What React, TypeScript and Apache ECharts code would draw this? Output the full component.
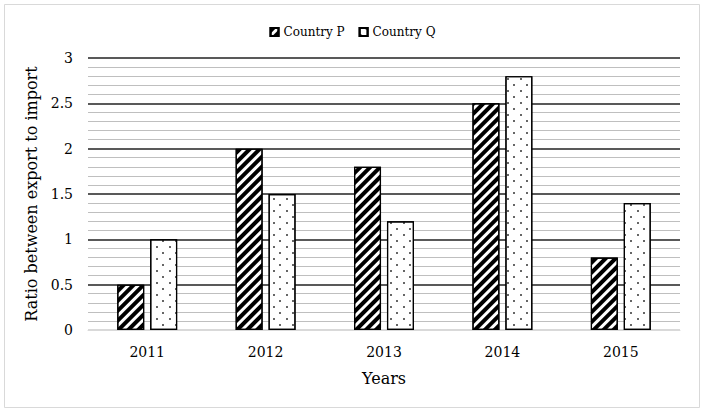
import React, { useEffect, useRef } from "react";
import * as echarts from "echarts";

const years = ["2011", "2012", "2013", "2014", "2015"];
const countryP = [0.5, 2.0, 1.8, 2.5, 0.8];
const countryQ = [1.0, 1.5, 1.2, 2.8, 1.4];
const seriesNames = ["Country P", "Country Q"];
const yAxisTitle = "Ratio between export to import";
const xAxisTitle = "Years";

const FONT = "DejaVu Serif";

export default function App() {
  const ref = useRef<HTMLDivElement>(null);
  useEffect(() => {
    if (!ref.current) return;
    const chart = echarts.init(ref.current, undefined, { renderer: "svg" });
    const stripeDecal = {
      symbol: "rect",
      symbolSize: 1,
      color: "#000",
      backgroundColor: "#fff",
      dashArrayX: [1, 0],
      dashArrayY: [4, 3],
      rotation: -Math.PI / 4,
    };
    const dotDecal = {
      symbol: "rect",
      symbolSize: 0.8,
      color: "#000",
      backgroundColor: "#fff",
      dashArrayX: [
        [2, 11],
        [0, 6, 2, 5],
      ],
      dashArrayY: [2, 4],
      rotation: 0,
    };
    chart.setOption({
      animation: false,
      backgroundColor: "#fff",
      textStyle: { fontFamily: FONT },
      graphic: [
        {
          type: "rect",
          shape: { x: 4.5, y: 4.5, width: 695, height: 403 },
          style: { fill: "none", stroke: "#d9d9d9", lineWidth: 1 },
          silent: true,
        },
      ],
      legend: {
        top: 21,
        left: "center",
        itemWidth: 8,
        itemHeight: 8,
        itemGap: 14,
        icon: "rect",
        textStyle: { fontFamily: FONT, fontSize: 12, color: "#000" },
        data: seriesNames,
      },
      grid: { left: 88, right: 25, top: 58, bottom: 82, containLabel: false },
      xAxis: {
        type: "category",
        data: years,
        name: xAxisTitle,
        nameLocation: "middle",
        nameGap: 40,
        nameTextStyle: { fontFamily: FONT, fontSize: 16, color: "#000" },
        axisLine: { lineStyle: { color: "#d9d9d9", width: 1 } },
        axisTick: { show: false },
        axisLabel: { fontFamily: FONT, fontSize: 14, color: "#000", margin: 15 },
      },
      yAxis: {
        type: "value",
        min: 0,
        max: 3,
        interval: 0.5,
        name: yAxisTitle,
        nameLocation: "middle",
        nameGap: 38,
        nameTextStyle: { fontFamily: FONT, fontSize: 16, color: "#000" },
        axisLine: { show: false },
        axisTick: { show: false },
        axisLabel: { fontFamily: FONT, fontSize: 14, color: "#000", margin: 15 },
        splitLine: {
          show: true,
          lineStyle: {
            color: ["#d9d9d9", "#595959", "#595959", "#595959", "#595959", "#595959", "#595959"],
            width: 2,
          },
        },
        minorTick: { show: false, splitNumber: 5 },
        minorSplitLine: { show: true, lineStyle: { color: "#bfbfbf", width: 1 } },
      },
      series: [
        {
          name: seriesNames[0],
          type: "bar",
          data: countryP,
          barWidth: 27,
          barGap: "22%",
          itemStyle: {
            color: "#fff",
            borderColor: "#000",
            borderWidth: 1.2,
            decal: stripeDecal,
          },
        },
        {
          name: seriesNames[1],
          type: "bar",
          data: countryQ,
          barWidth: 27,
          itemStyle: {
            color: "#fff",
            borderColor: "#000",
            borderWidth: 1.2,
            decal: dotDecal,
          },
        },
      ],
    });
    return () => chart.dispose();
  }, []);
  return (
    <div
      ref={ref}
      style={{ position: "fixed", left: 0, top: 0, width: 705, height: 412 }}
    />
  );
}
